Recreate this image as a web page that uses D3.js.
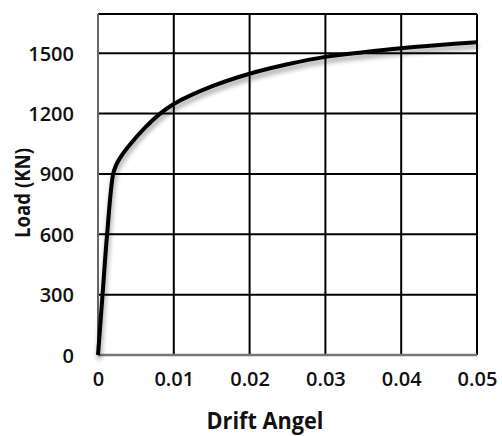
<!DOCTYPE html>
<html>
<head>
<meta charset="utf-8">
<script src="https://cdn.jsdelivr.net/npm/d3@7"></script>
<style>
  html, body { margin: 0; padding: 0; background: #fff; }
  svg { display: block; }
  text { font-family: "Open Sans", "Liberation Sans", sans-serif; fill: #111; }
</style>
</head>
<body>
<svg id="chart" width="502" height="436"></svg>
<script>
// Load–drift response curve
const driftAngle = [0, 0.0006, 0.0012, 0.0020, 0.0024, 0.0030, 0.0042, 0.0062, 0.0082, 0.01, 0.015, 0.02, 0.025, 0.03, 0.035, 0.04, 0.045, 0.05];
const loadKN     = [0, 300, 600, 900, 945, 985, 1045, 1130, 1200, 1248, 1335, 1398, 1445, 1482, 1505, 1525, 1541, 1555];
const xTicks = [0, 0.01, 0.02, 0.03, 0.04, 0.05];
const yTicks = [0, 300, 600, 900, 1200, 1500];
const xTickLabels = ["0", "0.01", "0.02", "0.03", "0.04", "0.05"];
const yTickLabels = ["0", "300", "600", "900", "1200", "1500"];

const svg = d3.select("#chart");
const plot = { left: 98, right: 477, top: 14, bottom: 355 };

const x = d3.scaleLinear().domain([0, 0.05]).range([plot.left, plot.right]);
const y = d3.scaleLinear().domain([0, 1695]).range([plot.bottom, plot.top]);

// soft drop shadow under the curve
const defs = svg.append("defs");
const f = defs.append("filter").attr("id", "shadow")
  .attr("x", "-10%").attr("y", "-10%").attr("width", "120%").attr("height", "130%");
f.append("feGaussianBlur").attr("in", "SourceAlpha").attr("stdDeviation", 2.4).attr("result", "b");
f.append("feOffset").attr("in", "b").attr("dx", 1).attr("dy", 4).attr("result", "o");
f.append("feComponentTransfer").attr("in", "o").attr("result", "s")
  .append("feFuncA").attr("type", "linear").attr("slope", 0.4);
const m = f.append("feMerge");
m.append("feMergeNode").attr("in", "s");
m.append("feMergeNode").attr("in", "SourceGraphic");

// grid
const grid = svg.append("g");
grid.selectAll("line.v").data(xTicks.slice(1)).join("line")
  .attr("x1", d => x(d)).attr("x2", d => x(d))
  .attr("y1", plot.top).attr("y2", plot.bottom)
  .attr("stroke", "#000").attr("stroke-width", 2);
grid.selectAll("line.h").data(yTicks.slice(1)).join("line")
  .attr("x1", plot.left).attr("x2", plot.right)
  .attr("y1", d => y(d)).attr("y2", d => y(d))
  .attr("stroke", "#000").attr("stroke-width", 2);
grid.append("line").attr("x1", plot.left).attr("x2", plot.right)
  .attr("y1", plot.top).attr("y2", plot.top).attr("stroke", "#000").attr("stroke-width", 2);

// axis lines
svg.append("line").attr("x1", plot.left).attr("x2", plot.left)
  .attr("y1", plot.top).attr("y2", plot.bottom).attr("stroke", "#666").attr("stroke-width", 2);
svg.append("line").attr("x1", plot.left).attr("x2", plot.right)
  .attr("y1", plot.bottom).attr("y2", plot.bottom).attr("stroke", "#777").attr("stroke-width", 2.5);

// tick labels
const xAxis = d3.axisBottom(x).tickValues(xTicks).tickSize(0).tickPadding(0)
  .tickFormat((d, i) => xTickLabels[i]);
const gx = svg.append("g").attr("transform", `translate(0,${plot.bottom + 25})`).call(xAxis);
gx.select(".domain").remove();
gx.selectAll("text").attr("font-size", 20).attr("font-weight", 600).attr("fill", "#111")
  .attr("font-family", "Open Sans").attr("dy", "0.32em");

const yAxis = d3.axisLeft(y).tickValues(yTicks).tickSize(0).tickPadding(0)
  .tickFormat((d, i) => yTickLabels[i]);
const gy = svg.append("g").attr("transform", `translate(${plot.left - 24},0)`).call(yAxis);
gy.select(".domain").remove();
gy.selectAll("text").attr("font-size", 20).attr("font-weight", 600).attr("fill", "#111")
  .attr("font-family", "Open Sans").attr("dy", "0.35em");

// curve
const line = d3.line().x((d, i) => x(driftAngle[i])).y(d => y(d)).curve(d3.curveCatmullRom.alpha(0.5));
svg.append("path").datum(loadKN).attr("d", line)
  .attr("fill", "none").attr("stroke", "#000").attr("stroke-width", 4)
  .attr("stroke-linejoin", "round").attr("filter", "url(#shadow)");

// axis titles
svg.append("text").attr("x", 265).attr("y", 429).attr("text-anchor", "middle")
  .attr("font-size", 24).attr("font-weight", 700)
  .attr("textLength", 117).attr("lengthAdjust", "spacingAndGlyphs")
  .text("Drift Angel");
svg.append("text").attr("transform", "translate(30,193) rotate(-90)").attr("text-anchor", "middle")
  .attr("font-size", 22).attr("font-weight", 700)
  .attr("textLength", 90).attr("lengthAdjust", "spacingAndGlyphs")
  .text("Load (KN)");
</script>
</body>
</html>
